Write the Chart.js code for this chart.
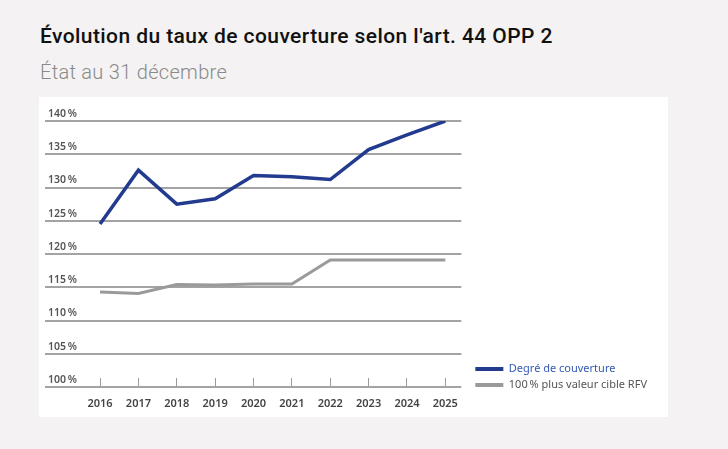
<!DOCTYPE html>
<html lang="fr">
<head>
<meta charset="utf-8">
<title>Évolution du taux de couverture</title>
<script src="https://cdn.jsdelivr.net/npm/chart.js@4/dist/chart.umd.min.js"></script>
<style>
  html, body { margin: 0; padding: 0; }
  body {
    width: 728px; height: 449px; overflow: hidden;
    background: #f4f2f2;
    font-family: Roboto, "Noto Sans", sans-serif;
    position: relative;
  }
  .title {
    position: absolute; left: 40px; top: 24px;
    font-size: 21px; font-weight: 500; color: #111;
    letter-spacing: 0.42px;
  }
  .subtitle {
    position: absolute; left: 40px; top: 60px;
    font-size: 20px; font-weight: 300; color: #8a8a8a;
    letter-spacing: 0.3px;
  }
  .panel {
    position: absolute; left: 39px; top: 97px;
    width: 629px; height: 320px; background: #fff;
  }
</style>
</head>
<body>
<div class="title">Évolution du taux de couverture selon l'art. 44 OPP 2</div>
<div class="subtitle">État au 31 décembre</div>
<div class="panel"><canvas id="chartCoverage" width="629" height="320"></canvas></div>

<script>
// données
const years = [2016, 2017, 2018, 2019, 2020, 2021, 2022, 2023, 2024, 2025];
const coverage = [124.5, 132.6, 127.5, 128.3, 131.8, 131.6, 131.2, 135.7, 137.9, 140.0];
const targetRfv = [114.3, 114.05, 115.4, 115.35, 115.5, 115.5, 119.1, 119.1, 119.1, 119.1];
const yTicks = [100, 105, 110, 115, 120, 125, 130, 135, 140];
const seriesLabels = ["Degré de couverture", "100\u202f% plus valeur cible RFV"];

const FONT = "'Noto Sans', 'Open Sans', sans-serif";

const toPoints = (vals) => vals.map((v, i) => ({ x: years[i], y: v }));

// décale un peu la légende (écart avec la zone du graphique)
const legendOffset = {
  id: "legendOffset",
  afterLayout(chart, args, opts) {
    const lg = chart.legend;
    if (!lg) return;
    lg.left += opts.x; lg.right += opts.x;
    lg.top += opts.y; lg.bottom += opts.y;
  },
};

const ctx = document.getElementById("chartCoverage");

new Chart(ctx, {
  type: "line",
  data: {
    datasets: [
      {
        label: seriesLabels[0],
        data: toPoints(coverage),
        borderColor: "#223b8f",
        backgroundColor: "#223b8f",
        borderWidth: 3.5,
        pointRadius: 0,
        tension: 0,
      },
      {
        label: seriesLabels[1],
        data: toPoints(targetRfv),
        borderColor: "#9a9a9a",
        backgroundColor: "#9a9a9a",
        borderWidth: 3,
        pointRadius: 0,
        tension: 0,
      },
    ],
  },
  options: {
    responsive: false,
    animation: false,
    layout: { padding: { left: 0, top: 24, right: 20, bottom: 6 } },
    plugins: {
      tooltip: { enabled: false },
      legendOffset: { x: 9, y: 8.5 },
      legend: {
        position: "right",
        align: "end",
        fullSize: false,
        maxWidth: 260,
        labels: {
          boxWidth: 28,
          boxHeight: 4,
          padding: 5,
          font: { family: FONT, size: 11 },
          generateLabels(chart) {
            const textColors = ["#3358b5", "#555555"];
            return chart.data.datasets.map((ds, i) => ({
              text: ds.label,
              fillStyle: ds.borderColor,
              strokeStyle: ds.borderColor,
              lineWidth: 0,
              fontColor: textColors[i],
              datasetIndex: i,
              hidden: false,
            }));
          },
        },
      },
    },
    scales: {
      x: {
        type: "linear",
        min: 2014.565,
        max: 2025.417,
        afterBuildTicks(scale) {
          scale.ticks = years.map((y) => ({ value: y }));
        },
        grid: {
          display: true,
          drawOnChartArea: false,
          drawTicks: true,
          tickLength: -9,
          color: "#9a9a9a",
          lineWidth: 1,
        },
        border: { display: false },
        ticks: {
          padding: 19,
          maxRotation: 0,
          autoSkip: false,
          color: "#444",
          font: { family: FONT, size: 11, weight: "600" },
          callback: (v) => String(v),
        },
        afterFit(scale) { scale.height = 24; },
      },
      y: {
        min: 100,
        max: 140,
        afterBuildTicks(scale) {
          scale.ticks = yTicks.map((v) => ({ value: v }));
        },
        grid: {
          color: "#a3a3a3",
          lineWidth: 2,
          drawTicks: false,
        },
        border: { display: false },
        ticks: {
          mirror: true,
          padding: 3,
          labelOffset: -7,
          color: "#555",
          font: { family: FONT, size: 10.5, weight: "600" },
          callback: (v) => v + "\u202f%",
        },
      },
    },
  },
  plugins: [legendOffset],
});
</script>
</body>
</html>
